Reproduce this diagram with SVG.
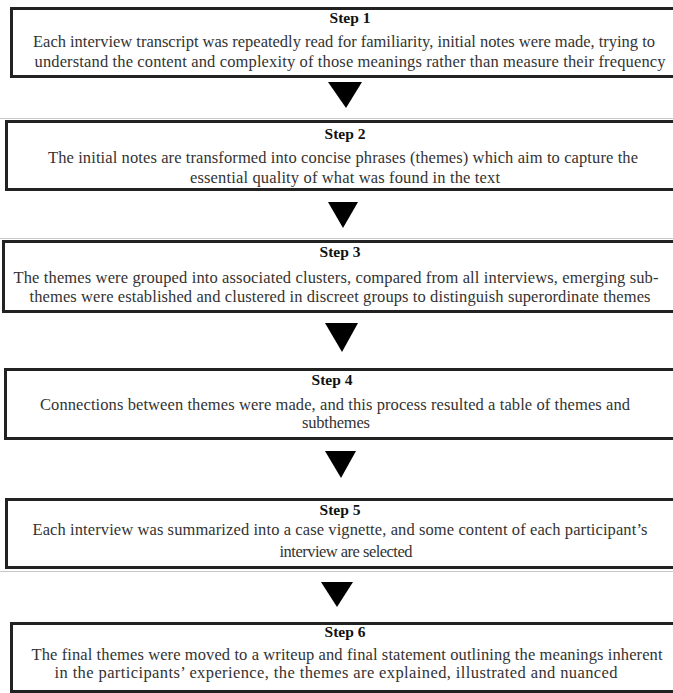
<svg xmlns="http://www.w3.org/2000/svg" width="673" height="693" viewBox="0 0 673 693">
<style>
.box{fill:#fff;stroke:#222;stroke-width:3}
.arrow{fill:#000}
.title{font-family:"Liberation Serif","Times New Roman",serif;font-weight:bold;font-size:15.5px;fill:#111;text-anchor:middle}
.body{font-family:"Liberation Serif","Times New Roman",serif;font-size:16.5px;fill:#333;text-anchor:middle}
.scan{stroke:#c8c8c8;stroke-width:1}
</style>
<rect width="673" height="693" fill="#fff"/>
<g id="artifacts">
<line class="scan" x1="0" y1="118.5" x2="673" y2="118.5"/>
<line class="scan" x1="0" y1="238.5" x2="673" y2="238.5"/>
<line class="scan" x1="0" y1="571.5" x2="673" y2="571.5"/>
</g>
<g id="step1">
<rect class="box" x="11.5" y="8.5" width="670" height="68"/>
<text class="title" x="350" y="23">Step 1</text>
<text class="body" x="344" y="47" textLength="622" lengthAdjust="spacing">Each interview transcript was repeatedly read for familiarity, initial notes were made, trying to</text>
<text class="body" x="350" y="67" textLength="631" lengthAdjust="spacing">understand the content and complexity of those meanings rather than measure their frequency</text>
</g>
<g id="step2">
<rect class="box" x="6.5" y="121.5" width="675" height="68"/>
<text class="title" x="345" y="139">Step 2</text>
<text class="body" x="343" y="163" textLength="590" lengthAdjust="spacing">The initial notes are transformed into concise phrases (themes) which aim to capture the</text>
<text class="body" x="345" y="183" textLength="310" lengthAdjust="spacing">essential quality of what was found in the text</text>
</g>
<g id="step3">
<rect class="box" x="3.5" y="241.5" width="678" height="70"/>
<text class="title" x="340" y="257">Step 3</text>
<text class="body" x="336" y="283" textLength="645" lengthAdjust="spacing">The themes were grouped into associated clusters, compared from all interviews, emerging sub-</text>
<text class="body" x="340" y="302" textLength="621" lengthAdjust="spacing">themes were established and clustered in discreet groups to distinguish superordinate themes</text>
</g>
<g id="step4">
<rect class="box" x="5.5" y="369.5" width="676" height="69"/>
<text class="title" x="332" y="385">Step 4</text>
<text class="body" x="335" y="410" textLength="590" lengthAdjust="spacing">Connections between themes were made, and this process resulted a table of themes and</text>
<text class="body" x="336" y="428" textLength="68" lengthAdjust="spacing">subthemes</text>
</g>
<g id="step5">
<rect class="box" x="6.5" y="499.5" width="675" height="68"/>
<text class="title" x="340" y="515">Step 5</text>
<text class="body" x="340" y="535" textLength="615" lengthAdjust="spacing">Each interview was summarized into a case vignette, and some content of each participant’s</text>
<text class="body" x="346" y="557" textLength="133" lengthAdjust="spacing">interview are selected</text>
</g>
<g id="step6">
<rect class="box" x="11.5" y="623.5" width="670" height="68"/>
<text class="title" x="345" y="637">Step 6</text>
<text class="body" x="347" y="660" textLength="631" lengthAdjust="spacing">The final themes were moved to a writeup and final statement outlining the meanings inherent</text>
<text class="body" x="336" y="678" textLength="563" lengthAdjust="spacing">in the participants’ experience, the themes are explained, illustrated and nuanced</text>
</g>
<g id="connectors">
<polygon class="arrow" points="328,82 362,82 346,108"/>
<polygon class="arrow" points="328,202 358,202 343,228"/>
<polygon class="arrow" points="325,323 358,323 342,352"/>
<polygon class="arrow" points="325,451 356,451 341,478"/>
<polygon class="arrow" points="321,582 353,582 337,607"/>
</g>
</svg>
